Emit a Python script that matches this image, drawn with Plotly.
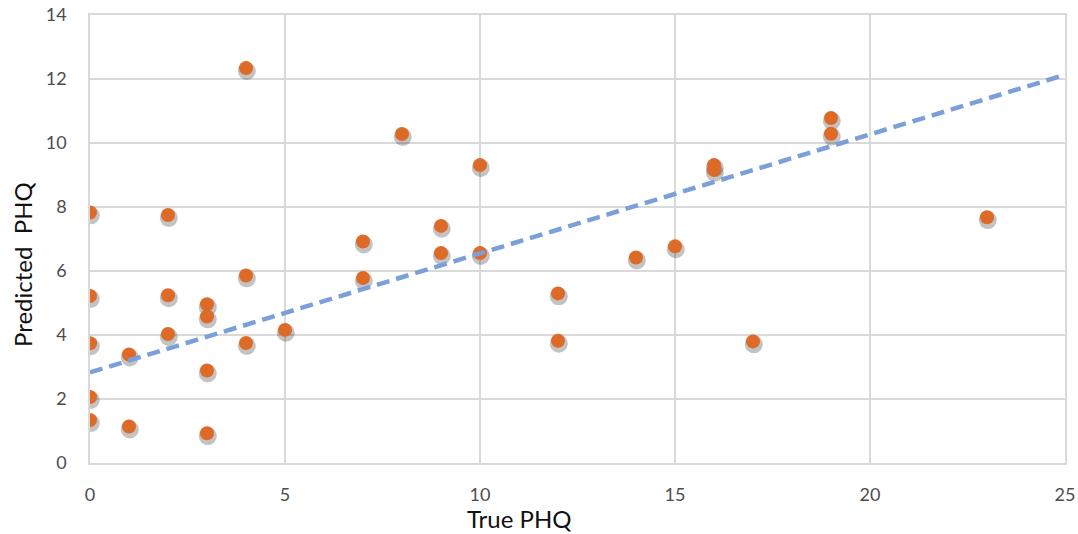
import numpy as np
import plotly.graph_objects as go

# True vs predicted PHQ scores
true_phq = [0, 0, 0, 0, 0,
            1, 1,
            2, 2, 2,
            3, 3, 3, 3,
            4, 4, 4,
            5,
            7, 7,
            8,
            9, 9,
            10, 10,
            12, 12,
            14,
            15,
            16, 16,
            17,
            19, 19,
            23]
predicted_phq = [7.83, 5.22, 3.74, 2.06, 1.34,
                 3.39, 1.14,
                 7.75, 5.24, 4.03,
                 4.96, 4.58, 2.89, 0.93,
                 12.34, 5.86, 3.75,
                 4.16,
                 6.92, 5.78,
                 10.28,
                 7.41, 6.56,
                 9.31, 6.56,
                 5.30, 3.82,
                 6.42,
                 6.77,
                 9.31, 9.16,
                 3.80,
                 10.78, 10.29,
                 7.68]

# linear trend line shown on the chart (intercept, slope)
trend_intercept = 2.83
trend_slope = 0.372

x_ticks = [0, 5, 10, 15, 20, 25]
y_ticks = [0, 2, 4, 6, 8, 10, 12, 14]

x = np.array(true_phq, dtype=float)
y = np.array(predicted_phq, dtype=float)

trend_x = np.array([x_ticks[0], x_ticks[-1]], dtype=float)
trend_y = trend_intercept + trend_slope * trend_x

fig = go.Figure()

# soft drop shadow under each marker
fig.add_trace(go.Scatter(
    x=x + 0.02, y=y - 0.09, mode="markers",
    marker=dict(size=18, color="rgba(40,40,40,0.28)", line=dict(width=0)),
    hoverinfo="skip", showlegend=False,
))
fig.add_trace(go.Scatter(
    x=x, y=y, mode="markers",
    marker=dict(size=14, color="#DE6A28", line=dict(width=0)),
    showlegend=False,
))
fig.add_trace(go.Scatter(
    x=trend_x, y=trend_y, mode="lines",
    line=dict(color="#7B9FD9", width=4.5, dash="13px,7px"),
    hoverinfo="skip", showlegend=False,
))

grid = "#D9D9D9"
tick_font = dict(family="Lato, Open Sans, sans-serif", size=18, color="#4D4D4D")
title_font = dict(family="Lato, Open Sans, sans-serif", size=24, color="#111111")

fig.update_layout(
    width=1078, height=534,
    margin=dict(l=90, r=13, t=15, b=71),
    paper_bgcolor="white", plot_bgcolor="white",
    font=dict(family="Lato, Open Sans, sans-serif", color="#595959"),
    xaxis=dict(
        range=[x_ticks[0], x_ticks[-1]], tickvals=x_ticks,
        showgrid=True, gridcolor=grid, gridwidth=1.5,
        zeroline=False, showline=True, linecolor=grid, linewidth=1.5, mirror=True,
        tickfont=tick_font, ticklabelstandoff=15, automargin=False,
    ),
    yaxis=dict(
        range=[y_ticks[0], y_ticks[-1]], tickvals=y_ticks,
        showgrid=True, gridcolor=grid, gridwidth=1.5,
        zeroline=False, showline=True, linecolor=grid, linewidth=1.5, mirror=True,
        tickfont=tick_font, ticklabelstandoff=18, automargin=False,
    ),
    annotations=[
        dict(text="True PHQ", xref="paper", yref="paper", x=0.44, y=0,
             xanchor="center", yanchor="middle", yshift=-55,
             showarrow=False, font=title_font),
        dict(text="Predicted  PHQ", xref="paper", yref="paper", x=0, y=0.442,
             xanchor="center", yanchor="middle", xshift=-67, textangle=-90,
             showarrow=False, font=title_font),
    ],
)

fig.write_html("out.html")
